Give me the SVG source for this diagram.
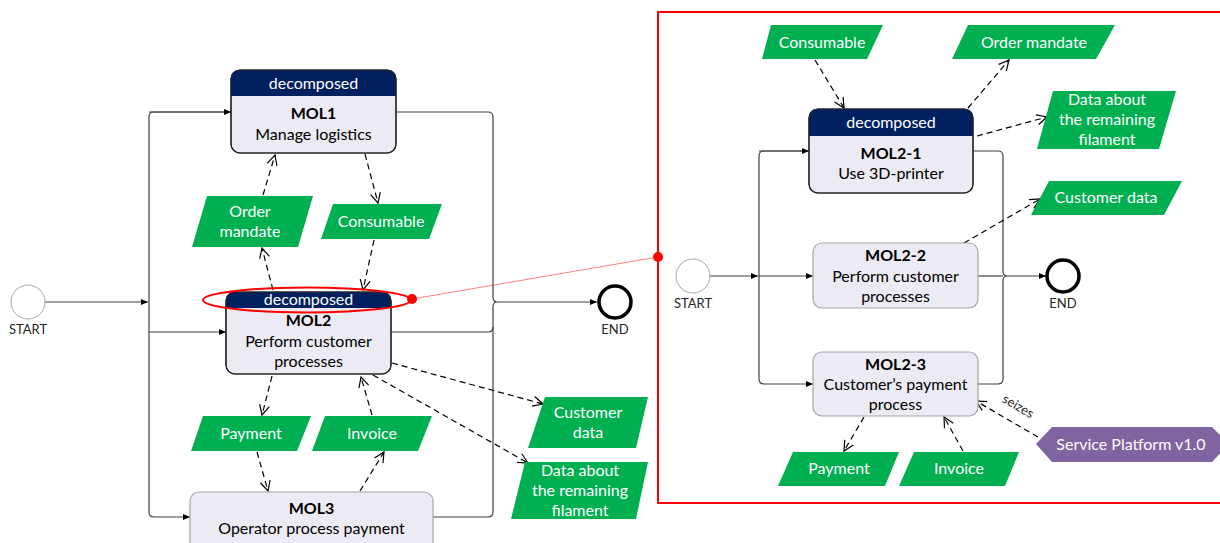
<svg xmlns="http://www.w3.org/2000/svg" width="1220" height="543" viewBox="0 0 1220 543">
  <style>
    text { font-family: Lato, "Liberation Sans", sans-serif; text-anchor: middle; }
    .box { fill: #ECEAF2; stroke: #A6A6A6; stroke-width: 1.2; }
    .box.dec { stroke: #262626; }
    .hdr { fill: #002060; }
    .hdrtxt { fill: #FFFFFF; font-size: 16px; }
    .id { fill: #000000; font-size: 16px; font-weight: bold; }
    .nm { fill: #000000; font-size: 16px; }
    .data { fill: #00B050; }
    .datatxt { fill: #FFFFFF; font-size: 16px; }
    .ev { fill: #FFFFFF; }
    .evlbl { fill: #262626; font-size: 13px; }
    .flow { fill: none; stroke: #404040; stroke-width: 1.2; }
    .dash { fill: none; stroke: #000000; stroke-width: 1.2; stroke-dasharray: 6 4; }
    .plat { fill: #8064A2; }
  </style>
  <defs>
    <marker id="tri" markerUnits="userSpaceOnUse" markerWidth="8" markerHeight="8" refX="7" refY="4" orient="auto">
      <path d="M0,1 L7,4 L0,7 Z" fill="#000000"/>
    </marker>
    <marker id="vee" markerUnits="userSpaceOnUse" markerWidth="12" markerHeight="12" refX="11" refY="6" orient="auto">
      <path d="M1,1 L11,6 L1,11" fill="none" stroke="#000000" stroke-width="1.2"/>
    </marker>
  </defs>

  <!-- frame around the expanded MOL2 sub-process -->
  <g id="zoom-frame">
    <path d="M1224,12 H658 V503 H1224" fill="none" stroke="#FF0000" stroke-width="2"/>
    <line x1="412" y1="299" x2="658" y2="257" stroke="#FF8080" stroke-width="1"/>
    <circle cx="658" cy="257" r="5" fill="#FF0000"/>
  </g>

  <!-- control flow and data flow -->
  <g id="connectors">
    <!-- top-level process -->
    <path class="flow" d="M45,302 H148" marker-end="url(#tri)"/>
    <path class="flow" d="M231,112 H154 Q149,112 149,117 V512 Q149,517 154,517 H190" marker-end="url(#tri)"/>
    <path class="flow" d="M149,112 H231" marker-end="url(#tri)"/>
    <path class="flow" d="M149,332 H226" marker-end="url(#tri)"/>
    <path class="flow" d="M396,112 H488 Q493,112 493,117 V297 Q493,302 497,302 Q493,302 493,307 V512 Q493,517 488,517 H433"/>
    <path class="flow" d="M391,332 H488 Q493,332 493,327"/>
    <path class="flow" d="M497,302 H597" marker-end="url(#tri)"/>

    <path class="dash" d="M263,195 L275,155" marker-end="url(#vee)"/>
    <path class="dash" d="M273,290 L262,248" marker-end="url(#vee)"/>
    <path class="dash" d="M365,154 L378,203" marker-end="url(#vee)"/>
    <path class="dash" d="M374,240 L363,290" marker-end="url(#vee)"/>
    <path class="dash" d="M272,376 L262,415" marker-end="url(#vee)"/>
    <path class="dash" d="M257,452 L268,491" marker-end="url(#vee)"/>
    <path class="dash" d="M360,491 L384,452" marker-end="url(#vee)"/>
    <path class="dash" d="M372,415 L361,377" marker-end="url(#vee)"/>
    <path class="dash" d="M392,363 L543,404" marker-end="url(#vee)"/>
    <path class="dash" d="M373,375 L528,463" marker-end="url(#vee)"/>

    <!-- MOL2 sub-process -->
    <path class="flow" d="M710,276 H758" marker-end="url(#tri)"/>
    <path class="flow" d="M759,276 H813" marker-end="url(#tri)"/>
    <path class="flow" d="M809,151 H764 Q759,151 759,156 V379 Q759,384 764,384 H813" marker-end="url(#tri)"/>
    <path class="flow" d="M759,151 H809" marker-end="url(#tri)"/>
    <path class="flow" d="M973,151 H998 Q1003,151 1003,156 V271 Q1003,276 1007,276 Q1003,276 1003,281 V379 Q1003,384 998,384 H978"/>
    <path class="flow" d="M978,276 H1003"/>
    <path class="flow" d="M1007,276 H1046" marker-end="url(#tri)"/>

    <path class="dash" d="M815,60 L844,108" marker-end="url(#vee)"/>
    <path class="dash" d="M968,108 L1009,60" marker-end="url(#vee)"/>
    <path class="dash" d="M977,136 L1047,117" marker-end="url(#vee)"/>
    <path class="dash" d="M964,243 L1040,199" marker-end="url(#vee)"/>
    <path class="dash" d="M864,417 L844,451" marker-end="url(#vee)"/>
    <path class="dash" d="M963,451 L944,417" marker-end="url(#vee)"/>
    <path class="dash" d="M1038,437 L976,401" stroke-dasharray="10 6" marker-end="url(#vee)"/>
    <text class="evlbl" x="1016" y="410" font-size="13" transform="rotate(30 1016 410)">seizes</text>
  </g>

  <!-- top-level events -->
  <g id="start">
    <circle class="ev" cx="28" cy="302" r="17" stroke="#A6A6A6" stroke-width="1"/>
    <text class="evlbl" x="28" y="334">START</text>
  </g>
  <g id="end">
    <circle class="ev" cx="615" cy="302" r="16" stroke="#000000" stroke-width="3.5"/>
    <text class="evlbl" x="615" y="334">END</text>
  </g>

  <!-- top-level activities -->
  <g id="mol1">
    <rect class="box dec" x="231" y="70" width="165" height="83" rx="9"/>
    <path class="hdr" d="M231,96 V79 Q231,70 240,70 H387 Q396,70 396,79 V96 Z"/>
    <rect x="231" y="70" width="165" height="83" rx="9" fill="none" stroke="#262626" stroke-width="1.2"/>
    <text class="hdrtxt" x="313.5" y="89">decomposed</text>
    <text class="id" x="313.5" y="119">MOL1</text>
    <text class="nm" x="313.5" y="140">Manage logistics</text>
  </g>
  <g id="mol2">
    <rect class="box dec" x="226" y="292" width="165" height="82" rx="9"/>
    <path class="hdr" d="M226,308 V301 Q226,292 235,292 H382 Q391,292 391,301 V308 Z"/>
    <rect x="226" y="292" width="165" height="82" rx="9" fill="none" stroke="#262626" stroke-width="1.2"/>
    <text class="hdrtxt" x="308.5" y="305">decomposed</text>
    <text class="id" x="308.5" y="326">MOL2</text>
    <text class="nm" x="308.5" y="347">Perform customer</text>
    <text class="nm" x="308.5" y="367">processes</text>
    <ellipse cx="307" cy="300" rx="104" ry="12.5" fill="none" stroke="#FF0000" stroke-width="2"/>
    <circle cx="412" cy="299" r="5" fill="#FF0000"/>
  </g>
  <g id="mol3">
    <rect class="box" x="190" y="492" width="243" height="70" rx="9"/>
    <text class="id" x="311.5" y="514">MOL3</text>
    <text class="nm" x="311.5" y="534">Operator process payment</text>
  </g>

  <!-- top-level data objects -->
  <g id="order-mandate">
    <polygon class="data" points="207,196 313,196 298,247 192,247"/>
    <text class="datatxt" x="250" y="217">Order</text>
    <text class="datatxt" x="250" y="237">mandate</text>
  </g>
  <g id="consumable">
    <polygon class="data" points="333,204 442,204 429,239 321,239"/>
    <text class="datatxt" x="381" y="227">Consumable</text>
  </g>
  <g id="payment">
    <polygon class="data" points="203,416 311,416 297,451 191,451"/>
    <text class="datatxt" x="251" y="439">Payment</text>
  </g>
  <g id="invoice">
    <polygon class="data" points="325,416 432,416 418,451 312,451"/>
    <text class="datatxt" x="372" y="439">Invoice</text>
  </g>
  <g id="customer-data">
    <polygon class="data" points="545,397 648,397 636,448 528,448"/>
    <text class="datatxt" x="588" y="418">Customer</text>
    <text class="datatxt" x="588" y="438">data</text>
  </g>
  <g id="filament-data">
    <polygon class="data" points="525,462 648,462 636,519 511,519"/>
    <text class="datatxt" x="580" y="476">Data about</text>
    <text class="datatxt" x="580" y="496">the remaining</text>
    <text class="datatxt" x="580" y="516">filament</text>
  </g>

  <!-- MOL2 sub-process events -->
  <g id="sub-start">
    <circle class="ev" cx="693" cy="276" r="17" stroke="#A6A6A6" stroke-width="1"/>
    <text class="evlbl" x="693" y="308">START</text>
  </g>
  <g id="sub-end">
    <circle class="ev" cx="1063" cy="276" r="16" stroke="#000000" stroke-width="3.5"/>
    <text class="evlbl" x="1063" y="308">END</text>
  </g>

  <!-- MOL2 sub-process activities -->
  <g id="mol2-1">
    <rect class="box dec" x="809" y="109" width="164" height="84" rx="9"/>
    <path class="hdr" d="M809,136 V118 Q809,109 818,109 H964 Q973,109 973,118 V136 Z"/>
    <rect x="809" y="109" width="164" height="84" rx="9" fill="none" stroke="#262626" stroke-width="1.2"/>
    <text class="hdrtxt" x="891" y="128">decomposed</text>
    <text class="id" x="891" y="159">MOL2-1</text>
    <text class="nm" x="891" y="179">Use 3D-printer</text>
  </g>
  <g id="mol2-2">
    <rect class="box" x="813" y="243" width="165" height="65" rx="9"/>
    <text class="id" x="895.5" y="261">MOL2-2</text>
    <text class="nm" x="895.5" y="282">Perform customer</text>
    <text class="nm" x="895.5" y="302">processes</text>
  </g>
  <g id="mol2-3">
    <rect class="box" x="813" y="352" width="165" height="64" rx="9"/>
    <text class="id" x="895.5" y="370">MOL2-3</text>
    <text class="nm" x="895.5" y="390">Customer’s payment</text>
    <text class="nm" x="895.5" y="410">process</text>
  </g>

  <!-- MOL2 sub-process data objects -->
  <g id="sub-consumable">
    <polygon class="data" points="771,25 883,25 867,59 762,59"/>
    <text class="datatxt" x="822" y="48">Consumable</text>
  </g>
  <g id="sub-order-mandate">
    <polygon class="data" points="968,25 1115,25 1096,59 952,59"/>
    <text class="datatxt" x="1034" y="48">Order mandate</text>
  </g>
  <g id="sub-filament-data">
    <polygon class="data" points="1053,91 1176,91 1159,149 1037,149"/>
    <text class="datatxt" x="1107" y="105">Data about</text>
    <text class="datatxt" x="1107" y="125">the remaining</text>
    <text class="datatxt" x="1107" y="145">filament</text>
  </g>
  <g id="sub-customer-data">
    <polygon class="data" points="1049,181 1182,181 1164,215 1031,215"/>
    <text class="datatxt" x="1106" y="203">Customer data</text>
  </g>
  <g id="sub-payment">
    <polygon class="data" points="793,452 899,452 885,486 778,486"/>
    <text class="datatxt" x="839" y="474">Payment</text>
  </g>
  <g id="sub-invoice">
    <polygon class="data" points="914,452 1019,452 1005,486 899,486"/>
    <text class="datatxt" x="959" y="474">Invoice</text>
  </g>

  <!-- platform resource -->
  <g id="service-platform">
    <polygon class="plat" points="1036,444 1052,427 1212,427 1229,444 1212,462 1052,462"/>
    <text class="datatxt" x="1131" y="450">Service Platform v1.0</text>
  </g>
</svg>
